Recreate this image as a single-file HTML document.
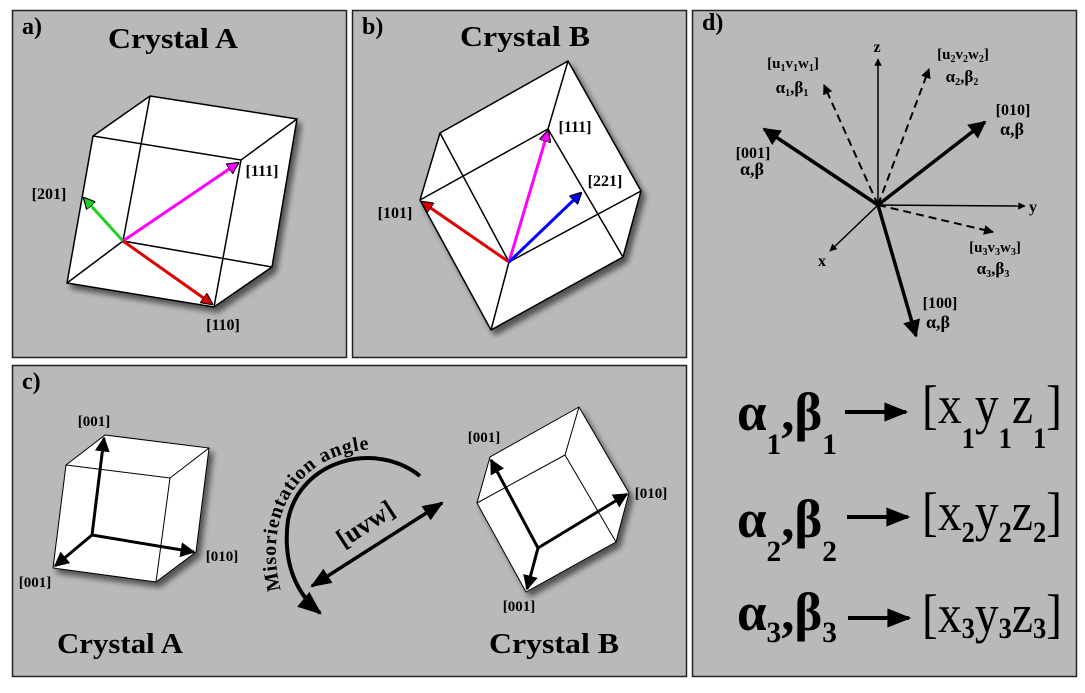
<!DOCTYPE html>
<html><head><meta charset="utf-8"><style>
html,body{margin:0;padding:0;background:#fff;}
svg{display:block;font-family:"Liberation Serif",serif;}
</style></head><body>
<svg width="1085" height="693" viewBox="0 0 1085 693">
<defs>
<filter id="sh" x="-20%" y="-20%" width="150%" height="150%"><feDropShadow dx="4" dy="5" stdDeviation="3" flood-color="#000" flood-opacity="0.55"/></filter>
<marker id="mk" viewBox="0 0 10 10" refX="9" refY="5" markerWidth="5" markerHeight="5" orient="auto-start-reverse"><path d="M0,0 L10,5 L0,10 z" fill="#000"/></marker>
<marker id="mkt" viewBox="0 0 10 10" refX="9" refY="5" markerWidth="7" markerHeight="6" orient="auto-start-reverse"><path d="M0,1 L10,5 L0,9 z" fill="#000"/></marker>
<marker id="mr" viewBox="0 0 10 10" refX="9" refY="5" markerWidth="4" markerHeight="4" orient="auto"><path d="M0,0 L10,5 L0,10 z" fill="#e00000" stroke="#000" stroke-width="1"/></marker>
<marker id="mg" viewBox="0 0 10 10" refX="9" refY="5" markerWidth="4" markerHeight="4" orient="auto"><path d="M0,0 L10,5 L0,10 z" fill="#20d020" stroke="#000" stroke-width="1"/></marker>
<marker id="mm" viewBox="0 0 10 10" refX="9" refY="5" markerWidth="4" markerHeight="4" orient="auto"><path d="M0,0 L10,5 L0,10 z" fill="#ff00ff" stroke="#000" stroke-width="1"/></marker>
<marker id="mb" viewBox="0 0 10 10" refX="9" refY="5" markerWidth="4" markerHeight="4" orient="auto"><path d="M0,0 L10,5 L0,10 z" fill="#0000ff" stroke="#000" stroke-width="1"/></marker>
</defs>

<!-- panels -->
<rect x="12.5" y="10.5" width="334" height="347" fill="#b9b9b9" stroke="#222" stroke-width="1.5"/>
<rect x="352.5" y="10.5" width="334" height="347" fill="#b9b9b9" stroke="#222" stroke-width="1.5"/>
<rect x="12.5" y="365.5" width="674" height="311" fill="#b9b9b9" stroke="#222" stroke-width="1.5"/>
<rect x="692.5" y="10.5" width="384" height="666" fill="#b9b9b9" stroke="#222" stroke-width="1.5"/>

<!-- Panel a -->
<text x="22" y="34" font-size="24" font-weight="bold">a)</text>
<text x="173" y="48" font-size="28" font-weight="bold" text-anchor="middle" textLength="130" lengthAdjust="spacingAndGlyphs">Crystal A</text>
<g stroke="#000" stroke-width="1.5" fill="none">
<polygon points="150,96 297,119 272,267 214,307 67,283 93,136" fill="#fff" filter="url(#sh)"/>
<polyline points="93,136 241,160 297,119"/><line x1="241" y1="160" x2="214" y2="307"/>
<polyline points="150,96 123,241 272,267"/><line x1="123" y1="241" x2="67" y2="283"/>
</g>
<g stroke-width="3">
<line x1="123" y1="241" x2="84" y2="198" stroke="#20d020" marker-end="url(#mg)"/>
<line x1="123" y1="241" x2="238" y2="163" stroke="#ff00ff" marker-end="url(#mm)"/>
<line x1="123" y1="241" x2="212" y2="304" stroke="#e00000" marker-end="url(#mr)"/>
</g>
<g font-size="16" font-weight="bold" text-anchor="middle">
<text x="49" y="199">[201]</text><text x="262" y="176">[111]</text><text x="223" y="330">[110]</text></g>

<!-- Panel b -->
<text x="362" y="34" font-size="24" font-weight="bold">b)</text>
<text x="525" y="46" font-size="28" font-weight="bold" text-anchor="middle" textLength="130" lengthAdjust="spacingAndGlyphs">Crystal B</text>
<g stroke="#000" stroke-width="1.5" fill="none">
<polygon points="568,61 641,191 623,257 491,330 420,200 440,133" fill="#fff" filter="url(#sh)"/>
<polyline points="440,133 509,262 641,191"/><line x1="509" y1="262" x2="491" y2="330"/>
<polyline points="420,200 548,129 623,257"/><line x1="548" y1="129" x2="568" y2="61"/>
</g>
<g stroke-width="3">
<line x1="509" y1="262" x2="422" y2="202" stroke="#e00000" marker-end="url(#mr)"/>
<line x1="509" y1="262" x2="548" y2="131" stroke="#ff00ff" marker-end="url(#mm)"/>
<line x1="509" y1="262" x2="581" y2="193" stroke="#0000ff" marker-end="url(#mb)"/>
</g>
<g font-size="16" font-weight="bold" text-anchor="middle">
<text x="395" y="218">[101]</text><text x="575" y="132">[111]</text><text x="605" y="186">[221]</text></g>

<!-- Panel c -->
<text x="22" y="389" font-size="24" font-weight="bold">c)</text>
<g stroke="#000" stroke-width="1" fill="none">
<polygon points="105,435 209,448 196,552 156,582 53,568 66,465" fill="#fff" filter="url(#sh)"/>
<polyline points="66,465 170,478 209,448"/><line x1="170" y1="478" x2="156" y2="582"/>
</g>
<g stroke="#000" stroke-width="3">
<line x1="92" y1="535" x2="104" y2="438" marker-end="url(#mk)"/>
<line x1="92" y1="535" x2="194" y2="552" marker-end="url(#mk)"/>
<line x1="92" y1="535" x2="55" y2="566" marker-end="url(#mk)"/>
</g>
<g font-size="15" font-weight="bold" text-anchor="middle">
<text x="94" y="426">[001]</text><text x="222" y="561">[010]</text><text x="35" y="587">[001]</text></g>
<text x="120" y="653" font-size="28" font-weight="bold" text-anchor="middle" textLength="126" lengthAdjust="spacingAndGlyphs">Crystal A</text>

<g stroke="#000" stroke-width="1" fill="none">
<polygon points="579,407 629,493 616,542 526,592 477,503 490,457" fill="#fff" filter="url(#sh)"/>
<polyline points="579,407 565,455 477,503"/><line x1="565" y1="455" x2="616" y2="542"/>
</g>
<g stroke="#000" stroke-width="3">
<line x1="538" y1="548" x2="491" y2="460" marker-end="url(#mk)"/>
<line x1="538" y1="548" x2="627" y2="494" marker-end="url(#mk)"/>
<line x1="538" y1="548" x2="527" y2="589" marker-end="url(#mk)"/>
</g>
<g font-size="15" font-weight="bold" text-anchor="middle">
<text x="484" y="442">[001]</text><text x="651" y="498">[010]</text><text x="519" y="611">[001]</text></g>
<text x="554" y="653" font-size="28" font-weight="bold" text-anchor="middle" textLength="130" lengthAdjust="spacingAndGlyphs">Crystal B</text>

<path d="M420,476 C375,440 300,460 288,520 C282,565 298,595 320,613" stroke="#000" stroke-width="4" fill="none" marker-end="url(#mkt)"/>
<path id="arcText" d="M281,590 C262,520 295,450 378,449 C398,449 414,455 428,464" fill="none"/>
<text font-size="20" font-weight="bold" letter-spacing="0.8"><textPath href="#arcText">Misorientation angle</textPath></text>
<line x1="312" y1="586" x2="442" y2="503" stroke="#000" stroke-width="3.5" marker-start="url(#mkt)" marker-end="url(#mkt)"/>
<text x="0" y="0" font-size="26" font-weight="bold" text-anchor="middle" transform="translate(370,531) rotate(-33)">[uvw]</text>

<!-- Panel d -->
<text x="702" y="30" font-size="24" font-weight="bold">d)</text>
<g stroke="#000" stroke-width="1.5">
<line x1="878" y1="205" x2="878" y2="59" marker-end="url(#mk)"/>
<line x1="878" y1="205" x2="1025" y2="206" marker-end="url(#mk)"/>
<line x1="878" y1="205" x2="830" y2="251" marker-end="url(#mk)"/>
</g>
<g font-size="16" font-weight="bold" text-anchor="middle"><text x="877" y="52">z</text><text x="1033" y="212">y</text><text x="822" y="266">x</text></g>
<g stroke="#000" stroke-width="3.5">
<line x1="878" y1="205" x2="764" y2="129" marker-end="url(#mk)"/>
<line x1="878" y1="205" x2="985" y2="122" marker-end="url(#mk)"/>
<line x1="878" y1="205" x2="916" y2="336" marker-end="url(#mk)"/>
</g>
<g stroke="#000" stroke-width="2" stroke-dasharray="8,5">
<line x1="878" y1="205" x2="824" y2="85" marker-end="url(#mk)"/>
<line x1="878" y1="205" x2="929" y2="69" marker-end="url(#mk)"/>
<line x1="878" y1="205" x2="993" y2="232" marker-end="url(#mk)"/>
</g>
<g font-size="15" font-weight="bold" text-anchor="middle">
<text x="793" y="68">[u<tspan font-size="10" dy="3">1</tspan><tspan dy="-3">v</tspan><tspan font-size="10" dy="3">1</tspan><tspan dy="-3">w</tspan><tspan font-size="10" dy="3">1</tspan><tspan dy="-3">]</tspan></text>
<text x="792" y="93" font-size="17">α<tspan font-size="10" dy="3">1</tspan><tspan dy="-3">,β</tspan><tspan font-size="10" dy="3">1</tspan></text>
<text x="963" y="59">[u<tspan font-size="10" dy="3">2</tspan><tspan dy="-3">v</tspan><tspan font-size="10" dy="3">2</tspan><tspan dy="-3">w</tspan><tspan font-size="10" dy="3">2</tspan><tspan dy="-3">]</tspan></text>
<text x="962" y="82" font-size="17">α<tspan font-size="10" dy="3">2</tspan><tspan dy="-3">,β</tspan><tspan font-size="10" dy="3">2</tspan></text>
<text x="1013" y="115" font-size="16">[010]</text><text x="1012" y="135" font-size="18">α,β</text>
<text x="753" y="158" font-size="16">[001]</text><text x="752" y="175" font-size="18">α,β</text>
<text x="995" y="252">[u<tspan font-size="10" dy="3">3</tspan><tspan dy="-3">v</tspan><tspan font-size="10" dy="3">3</tspan><tspan dy="-3">w</tspan><tspan font-size="10" dy="3">3</tspan><tspan dy="-3">]</tspan></text>
<text x="993" y="274" font-size="17">α<tspan font-size="10" dy="3">3</tspan><tspan dy="-3">,β</tspan><tspan font-size="10" dy="3">3</tspan></text>
<text x="940" y="308" font-size="16">[100]</text><text x="938" y="328" font-size="18">α,β</text>
</g>
<g>
<g>
<text x="737" y="430" font-size="54" font-weight="bold" textLength="100" lengthAdjust="spacingAndGlyphs">α<tspan font-size="30" dy="24">1</tspan><tspan dy="-24">,β</tspan><tspan font-size="30" dy="24">1</tspan></text>
<line x1="845" y1="412" x2="906" y2="412" stroke="#000" stroke-width="4" marker-end="url(#mkt)"/>
<text x="922" y="423" font-size="54" textLength="140" lengthAdjust="spacingAndGlyphs">[x<tspan font-size="30" font-weight="bold" dy="25">1</tspan><tspan dy="-25">y</tspan><tspan font-size="30" font-weight="bold" dy="25">1</tspan><tspan dy="-25">z</tspan><tspan font-size="30" font-weight="bold" dy="25">1</tspan><tspan dy="-25">]</tspan></text></g>
<g>
<text x="737" y="537" font-size="54" font-weight="bold" textLength="100" lengthAdjust="spacingAndGlyphs">α<tspan font-size="30" dy="24">2</tspan><tspan dy="-24">,β</tspan><tspan font-size="30" dy="24">2</tspan></text>
<line x1="847" y1="517" x2="908" y2="517" stroke="#000" stroke-width="4" marker-end="url(#mkt)"/>
<text x="922" y="530" font-size="54" textLength="140" lengthAdjust="spacingAndGlyphs">[x<tspan font-size="30" font-weight="bold" dy="12">2</tspan><tspan dy="-12">y</tspan><tspan font-size="30" font-weight="bold" dy="12">2</tspan><tspan dy="-12">z</tspan><tspan font-size="30" font-weight="bold" dy="12">2</tspan><tspan dy="-12">]</tspan></text></g>
<g>
<text x="737" y="630" font-size="54" font-weight="bold" textLength="100" lengthAdjust="spacingAndGlyphs">α<tspan font-size="30" dy="12">3</tspan><tspan dy="-12">,β</tspan><tspan font-size="30" dy="12">3</tspan></text>
<line x1="848" y1="618" x2="909" y2="618" stroke="#000" stroke-width="4" marker-end="url(#mkt)"/>
<text x="922" y="632" font-size="54" textLength="140" lengthAdjust="spacingAndGlyphs">[x<tspan font-size="30" font-weight="bold" dy="6">3</tspan><tspan dy="-6">y</tspan><tspan font-size="30" font-weight="bold" dy="6">3</tspan><tspan dy="-6">z</tspan><tspan font-size="30" font-weight="bold" dy="6">3</tspan><tspan dy="-6">]</tspan></text></g>
</g>
</svg>
</body></html>
